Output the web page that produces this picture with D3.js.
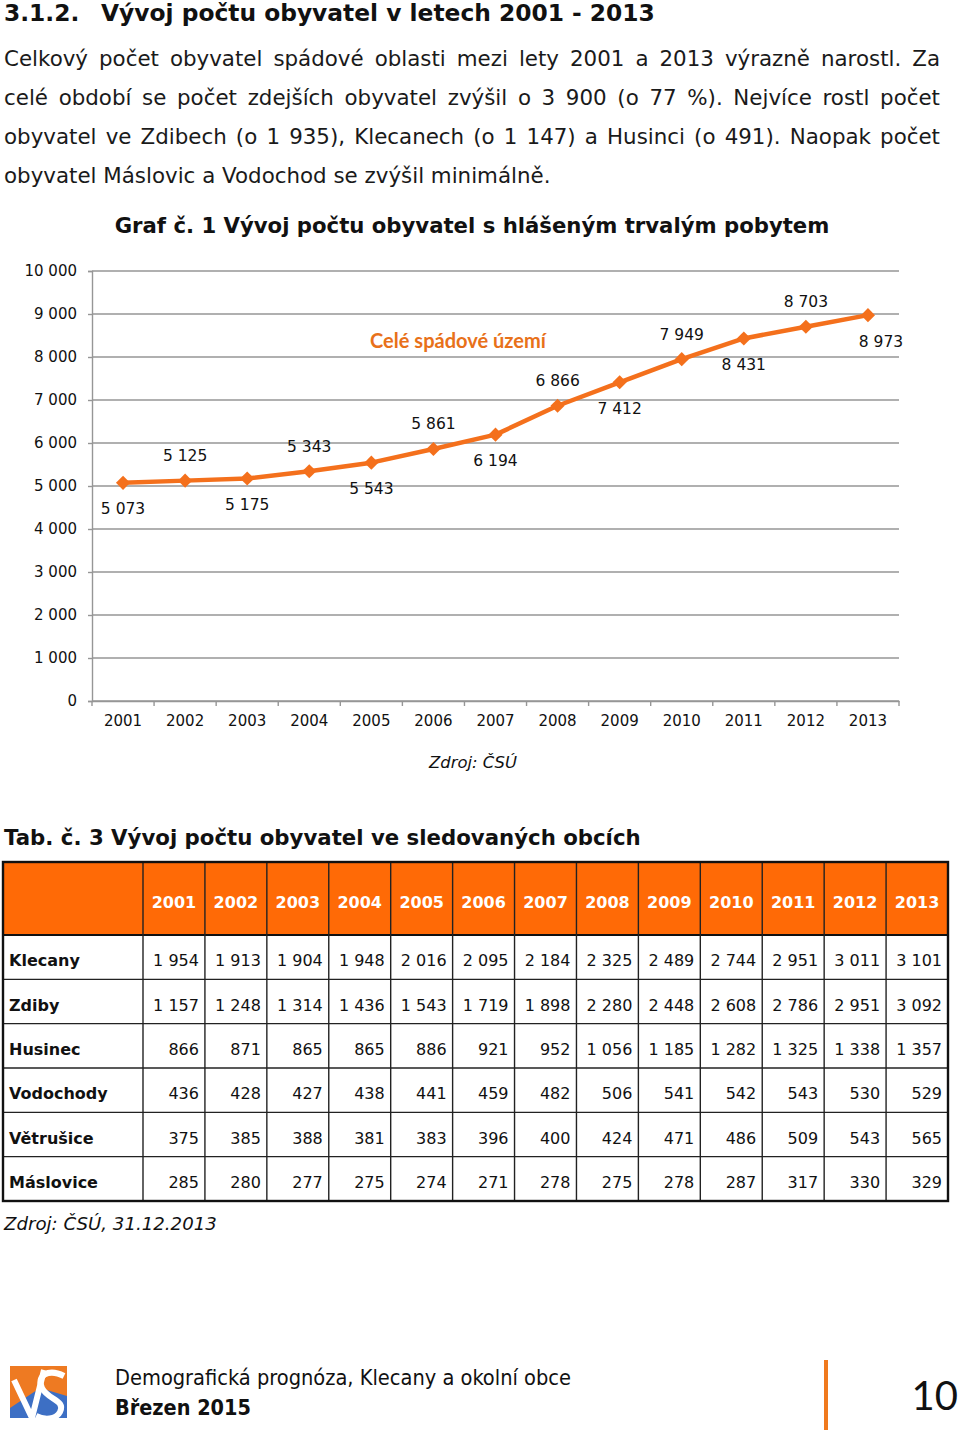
<!DOCTYPE html>
<html><head><meta charset="utf-8">
<script src="https://cdn.jsdelivr.net/npm/d3@7"></script>
<style>html,body{margin:0;padding:0;background:#fff}svg{display:block}</style>
</head><body>
<script>
// ---------- DATA ----------
const years = [2001,2002,2003,2004,2005,2006,2007,2008,2009,2010,2011,2012,2013];
const totalPop = [5073,5125,5175,5343,5543,5861,6194,6866,7412,7949,8431,8703,8973];
const yTicks = [0,1000,2000,3000,4000,5000,6000,7000,8000,9000,10000];
const municipalities = ["Klecany","Zdiby","Husinec","Vodochody","Větrušice","Máslovice"];
const klecany   = [1954,1913,1904,1948,2016,2095,2184,2325,2489,2744,2951,3011,3101];
const zdiby     = [1157,1248,1314,1436,1543,1719,1898,2280,2448,2608,2786,2951,3092];
const husinec   = [866,871,865,865,886,921,952,1056,1185,1282,1325,1338,1357];
const vodochody = [436,428,427,438,441,459,482,506,541,542,543,530,529];
const vetrusice = [375,385,388,381,383,396,400,424,471,486,509,543,565];
const maslovice = [285,280,277,275,274,271,278,275,278,287,317,330,329];
const tableRows = [klecany,zdiby,husinec,vodochody,vetrusice,maslovice];

const headingNum = "3.1.2.";
const headingText = "Vývoj počtu obyvatel v letech 2001 - 2013";
const paragraphLines = [
 "Celkový počet obyvatel spádové oblasti mezi lety 2001 a 2013 výrazně narostl. Za",
 "celé období se počet zdejších obyvatel zvýšil o 3 900 (o 77 %). Nejvíce rostl počet",
 "obyvatel ve Zdibech (o 1 935), Klecanech (o 1 147) a Husinci (o 491). Naopak počet",
 "obyvatel Máslovic a Vodochod se zvýšil minimálně."
];
const chartTitle = "Graf č. 1 Vývoj počtu obyvatel s hlášeným trvalým pobytem";
const seriesName = "Celé spádové území";
const chartSource = "Zdroj: ČSÚ";
const tableTitle = "Tab. č. 3 Vývoj počtu obyvatel ve sledovaných obcích";
const tableSource = "Zdroj: ČSÚ, 31.12.2013";
const footerLine1 = "Demografická prognóza, Klecany a okolní obce";
const footerLine2 = "Březen 2015";
const pageNo = "10";

// ---------- SETUP ----------
const W = 960, H = 1434;
const FONT = "'DejaVu Sans', Verdana, sans-serif";
const ORANGE_LINE = "#F4701C", ORANGE_HEAD = "#FF6A06";
const loc = d3.formatLocale({decimal:",", thousands:" ", grouping:[3], currency:["",""]});
const fmt = loc.format(",d");

const svg = d3.select("body").append("svg").attr("width", W).attr("height", H)
  .style("font-family", FONT);

function fitWidth(sel, w){
  const n = sel.node(); const cur = n.getComputedTextLength();
  const fs = parseFloat(sel.attr("font-size"));
  sel.attr("font-size", fs * w / cur);
  return fs * w / cur;
}

// ---------- HEADING ----------
const h1 = svg.append("text").attr("x", 101).attr("y", 21).attr("font-size", 22)
  .attr("font-weight", "bold").attr("fill", "#111").text(headingText);
const hfs = fitWidth(h1, 554);
svg.append("text").attr("x", 4).attr("y", 21).attr("font-size", hfs)
  .attr("font-weight", "bold").attr("fill", "#111").text(headingNum);

// ---------- PARAGRAPH (justified) ----------
const probe = svg.append("text").attr("font-size", 20).text(paragraphLines[3]);
const pfs = fitWidth(probe, 547);
probe.remove();
paragraphLines.forEach((line, i) => {
  const y = 66 + i * 39;
  const g = svg.append("g");
  if (i === paragraphLines.length - 1) {
    g.append("text").attr("x", 4).attr("y", y).attr("font-size", pfs).attr("fill", "#1a1a1a").text(line);
    return;
  }
  const words = line.split(" ");
  const ws = words.map(w => {
    const t = g.append("text").attr("y", y).attr("font-size", pfs).attr("fill", "#1a1a1a").text(w);
    return {t, w: t.node().getComputedTextLength()};
  });
  const total = d3.sum(ws, d => d.w);
  const gap = (936 - total) / (ws.length - 1);
  let x = 4;
  ws.forEach(d => { d.t.attr("x", x); x += d.w + gap; });
});

// ---------- CHART ----------
const ct = svg.append("text").attr("x", 472).attr("y", 233).attr("text-anchor", "middle")
  .attr("font-size", 19).attr("font-weight", "bold").attr("fill", "#111").text(chartTitle);
fitWidth(ct, 715);

const plot = {left: 92, right: 899, top: 271, bottom: 701};
const x = d3.scaleBand().domain(years).range([plot.left, plot.right]).padding(0);
const y = d3.scaleLinear().domain([0, 10000]).range([plot.bottom, plot.top]);

// grid
svg.append("g").selectAll("line").data(yTicks).join("line")
  .attr("x1", plot.left).attr("x2", plot.right)
  .attr("y1", d => y(d)).attr("y2", d => y(d))
  .attr("stroke", "#969696").attr("stroke-width", 1.4);

// y axis
const yAxis = svg.append("g").attr("transform", `translate(${plot.left},0)`)
  .call(d3.axisLeft(y).tickValues(yTicks).tickFormat(fmt).tickSize(4).tickPadding(11));
yAxis.select(".domain").attr("stroke", "#969696").attr("stroke-width", 1.4);
yAxis.selectAll(".tick line").attr("stroke", "#969696").attr("stroke-width", 1.4);
yAxis.selectAll(".tick text").attr("font-size", 15).attr("font-family", FONT).attr("fill", "#111");

// x axis
const xAxis = svg.append("g").attr("transform", `translate(0,${plot.bottom})`)
  .call(d3.axisBottom(x).tickSize(0).tickPadding(14));
xAxis.select(".domain").attr("stroke", "#969696").attr("stroke-width", 1.4);
xAxis.selectAll(".tick text").attr("font-size", 15).attr("font-family", FONT).attr("fill", "#111");
const bounds = years.map(d => x(d)).concat([x(years[years.length-1]) + x.bandwidth()]);
xAxis.append("g").selectAll("line").data(bounds).join("line")
  .attr("x1", d => d).attr("x2", d => d).attr("y1", 0).attr("y2", 5)
  .attr("stroke", "#969696").attr("stroke-width", 1.4);

// line
const pts = years.map((yr, i) => ({yr, v: totalPop[i], i}));
const cx = d => x(d.yr) + x.bandwidth() / 2;
svg.append("path").datum(pts)
  .attr("d", d3.line().x(cx).y(d => y(d.v)))
  .attr("fill", "none").attr("stroke", ORANGE_LINE).attr("stroke-width", 4.5).attr("stroke-linejoin", "round");
svg.append("g").selectAll("path").data(pts).join("path")
  .attr("d", d3.symbol(d3.symbolSquare, 100)())
  .attr("transform", d => `translate(${cx(d)},${y(d.v)}) rotate(45)`)
  .attr("fill", ORANGE_LINE);
svg.append("g").selectAll("text").data(pts).join("text")
  .attr("x", d => cx(d) + (d.i === pts.length - 1 ? 13 : 0))
  .attr("y", d => y(d.v) + (d.i % 2 === 0 ? 26 : -25))
  .attr("dy", "0.35em").attr("text-anchor", "middle").attr("font-size", 15.5).attr("fill", "#111")
  .text(d => fmt(d.v));

const sn = svg.append("text").attr("x", 458).attr("y", 348).attr("text-anchor", "middle")
  .attr("font-family", "Lato, 'Open Sans', sans-serif").attr("font-weight", "bold")
  .attr("font-size", 20).attr("fill", "#E8711A").text(seriesName);
fitWidth(sn, 176);

const cs = svg.append("text").attr("x", 473).attr("y", 768).attr("text-anchor", "middle")
  .attr("font-size", 16).attr("font-style", "italic").attr("fill", "#111").text(chartSource);
fitWidth(cs, 88);

// ---------- TABLE ----------
const tt = svg.append("text").attr("x", 4).attr("y", 845).attr("font-size", 20)
  .attr("font-weight", "bold").attr("fill", "#111").text(tableTitle);
fitWidth(tt, 637);

const tLeft = 3, tRight = 948, nameRight = 143, headTop = 862, headBottom = 935, tBottom = 1201;
const cx2 = d3.scaleBand().domain(years).range([nameRight, tRight]);
const ry = d3.scaleBand().domain(municipalities).range([headBottom, tBottom]);

svg.append("rect").attr("x", tLeft).attr("y", headTop).attr("width", tRight - tLeft)
  .attr("height", headBottom - headTop).attr("fill", ORANGE_HEAD);

const tg = svg.append("g");
tg.selectAll("line.h").data(municipalities.slice(1)).join("line").attr("class", "h")
  .attr("x1", tLeft).attr("x2", tRight).attr("y1", d => ry(d)).attr("y2", d => ry(d))
  .attr("stroke", "#222").attr("stroke-width", 1.4);
tg.append("line").attr("x1", tLeft).attr("x2", tRight).attr("y1", headBottom).attr("y2", headBottom)
  .attr("stroke", "#111").attr("stroke-width", 2.2);
tg.selectAll("line.v").data(years).join("line").attr("class", "v")
  .attr("x1", d => cx2(d)).attr("x2", d => cx2(d)).attr("y1", headTop).attr("y2", tBottom)
  .attr("stroke", "#222").attr("stroke-width", 1.4);
tg.append("rect").attr("x", tLeft).attr("y", headTop).attr("width", tRight - tLeft)
  .attr("height", tBottom - headTop).attr("fill", "none").attr("stroke", "#111").attr("stroke-width", 2.4);

svg.append("g").selectAll("text").data(years).join("text")
  .attr("x", d => cx2(d) + cx2.bandwidth() / 2).attr("y", (headTop + headBottom) / 2 + 3.5)
  .attr("dy", "0.35em").attr("text-anchor", "middle").attr("font-size", 16)
  .attr("font-weight", "bold").attr("fill", "#fff").text(d => d);

municipalities.forEach((m, ri) => {
  const yc = ry(m) + ry.bandwidth() / 2 + 3.5;
  svg.append("text").attr("x", 9).attr("y", yc).attr("dy", "0.35em").attr("font-size", 16)
    .attr("font-weight", "bold").attr("fill", "#111").text(m);
  svg.append("g").selectAll("text").data(tableRows[ri]).join("text")
    .attr("x", (d, i) => cx2(years[i]) + cx2.bandwidth() - 6).attr("y", yc).attr("dy", "0.35em")
    .attr("text-anchor", "end").attr("font-size", 16).attr("fill", "#111").text(d => fmt(d));
});

const ts = svg.append("text").attr("x", 4).attr("y", 1230).attr("font-size", 17)
  .attr("font-style", "italic").attr("fill", "#111").text(tableSource);
fitWidth(ts, 213);

// ---------- FOOTER ----------
const logo = svg.append("g").attr("transform", "translate(10,1366)");
logo.append("rect").attr("width", 57).attr("height", 56).attr("fill", "#EE7A22");
logo.append("path").attr("d", "M0,56 L0,42 L30,22 L57,30 L57,56 Z").attr("fill", "#3D6FC4");
logo.append("path").attr("d", "M4,14 L22,52 L34,4").attr("fill", "none").attr("stroke", "#fff").attr("stroke-width", 6);
logo.append("path").attr("d", "M54,10 C38,2 26,10 32,22 C38,34 56,34 50,46 C46,54 34,54 26,50")
  .attr("fill", "none").attr("stroke", "#fff").attr("stroke-width", 6);
logo.append("rect").attr("x", 0).attr("y", 52).attr("width", 57).attr("height", 4).attr("fill", "#fff");

const f1 = svg.append("text").attr("x", 115).attr("y", 1385).attr("font-size", 19)
  .attr("font-family", "'DejaVu Sans Condensed', 'DejaVu Sans', sans-serif").attr("fill", "#111").text(footerLine1);
fitWidth(f1, 456);
const f2 = svg.append("text").attr("x", 115).attr("y", 1415).attr("font-size", 19).attr("font-weight", "bold")
  .attr("font-family", "'DejaVu Sans Condensed', 'DejaVu Sans', sans-serif").attr("fill", "#111").text(footerLine2);
fitWidth(f2, 136);

svg.append("rect").attr("x", 824).attr("y", 1360).attr("width", 4).attr("height", 70).attr("fill", "#F07A1E");
svg.append("text").attr("x", 958).attr("y", 1410).attr("text-anchor", "end").attr("font-size", 40)
  .attr("font-family", "Lato, 'Open Sans', sans-serif").attr("fill", "#111").text(pageNo);
</script>
</body></html>
